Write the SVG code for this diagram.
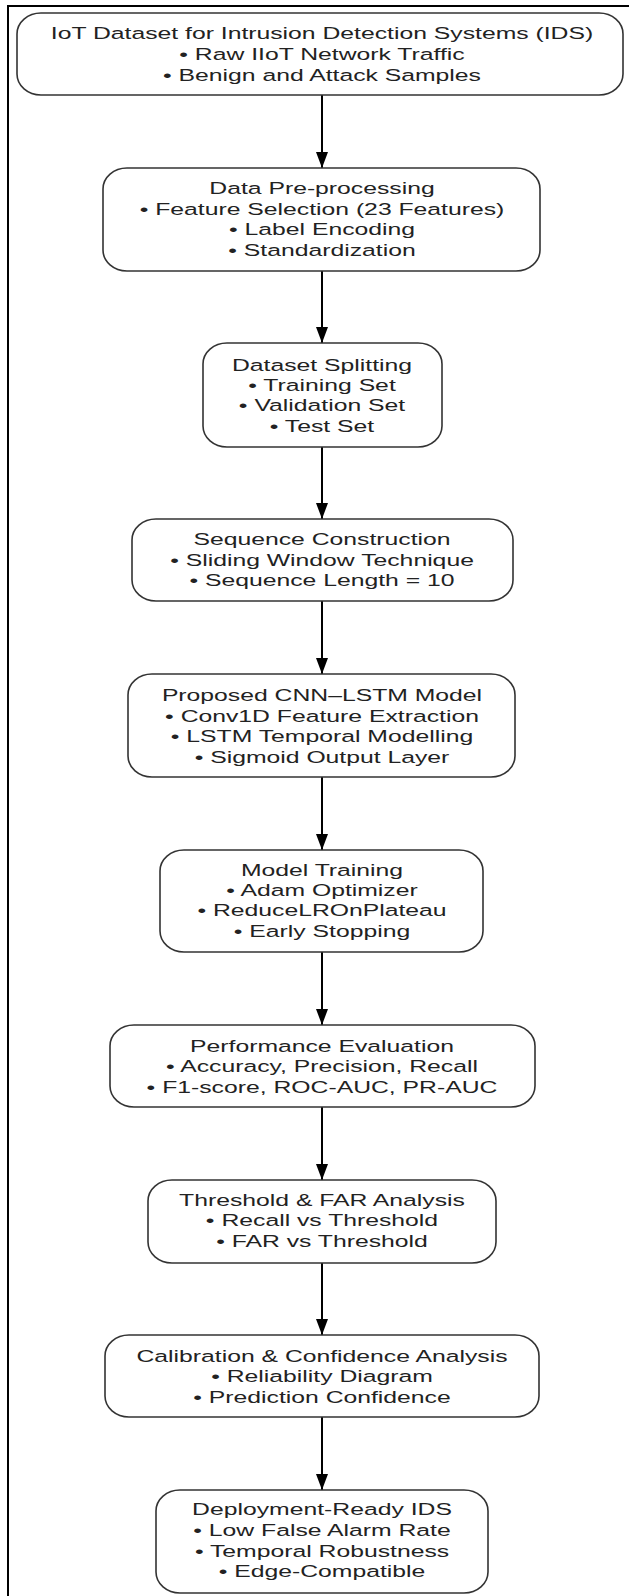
<svg xmlns="http://www.w3.org/2000/svg" width="629" height="1596" viewBox="0 0 629 1596">
<style>
.box{fill:#fff;stroke:#333;stroke-width:1.6}
.t{font-family:"Liberation Sans",Arial,sans-serif;font-size:16.5px;fill:#222;text-anchor:middle}
.c{stroke:#000;stroke-width:2;fill:none;marker-end:url(#ah)}
</style>
<defs>
<marker id="ah" markerUnits="userSpaceOnUse" markerWidth="16" markerHeight="12" refX="16" refY="6" orient="auto" viewBox="0 0 16 12">
<path d="M0,0 L16,6 L0,12 z" fill="#000"/>
</marker>
</defs>
<rect width="629" height="1596" fill="#fff"/>
<path d="M8,1596 V6 H629" fill="none" stroke="#000" stroke-width="2"/>
<g id="connectors">
<line class="c" x1="322" y1="95" x2="322" y2="168"/>
<line class="c" x1="322" y1="271" x2="322" y2="343"/>
<line class="c" x1="322" y1="447" x2="322" y2="519"/>
<line class="c" x1="322" y1="601" x2="322" y2="674"/>
<line class="c" x1="322" y1="777" x2="322" y2="850"/>
<line class="c" x1="322" y1="952" x2="322" y2="1025"/>
<line class="c" x1="322" y1="1107" x2="322" y2="1180"/>
<line class="c" x1="322" y1="1263" x2="322" y2="1335"/>
<line class="c" x1="322" y1="1417" x2="322" y2="1490"/>
</g>
<g id="n1">
<rect class="box" x="17" y="13" width="606" height="82" rx="24" ry="21"/>
<text class="t" transform="translate(322 0) scale(1.5 1)"><tspan x="0" y="39">IoT Dataset for Intrusion Detection Systems (IDS)</tspan><tspan x="0" y="60">• Raw IIoT Network Traffic</tspan><tspan x="0" y="81">• Benign and Attack Samples</tspan></text>
</g>
<g id="n2">
<rect class="box" x="103" y="168" width="437" height="103" rx="24" ry="21"/>
<text class="t" transform="translate(322 0) scale(1.5 1)"><tspan x="0" y="194">Data Pre-processing</tspan><tspan x="0" y="215">• Feature Selection (23 Features)</tspan><tspan x="0" y="235">• Label Encoding</tspan><tspan x="0" y="256">• Standardization</tspan></text>
</g>
<g id="n3">
<rect class="box" x="203" y="343" width="239" height="104" rx="24" ry="21"/>
<text class="t" transform="translate(322 0) scale(1.5 1)"><tspan x="0" y="371">Dataset Splitting</tspan><tspan x="0" y="391">• Training Set</tspan><tspan x="0" y="411">• Validation Set</tspan><tspan x="0" y="432">• Test Set</tspan></text>
</g>
<g id="n4">
<rect class="box" x="132" y="519" width="381" height="82" rx="24" ry="21"/>
<text class="t" transform="translate(322 0) scale(1.5 1)"><tspan x="0" y="545">Sequence Construction</tspan><tspan x="0" y="566">• Sliding Window Technique</tspan><tspan x="0" y="586">• Sequence Length = 10</tspan></text>
</g>
<g id="n5">
<rect class="box" x="128" y="674" width="387" height="103" rx="24" ry="21"/>
<text class="t" transform="translate(322 0) scale(1.5 1)"><tspan x="0" y="701">Proposed CNN–LSTM Model</tspan><tspan x="0" y="722">• Conv1D Feature Extraction</tspan><tspan x="0" y="742">• LSTM Temporal Modelling</tspan><tspan x="0" y="763">• Sigmoid Output Layer</tspan></text>
</g>
<g id="n6">
<rect class="box" x="160" y="850" width="323" height="102" rx="24" ry="21"/>
<text class="t" transform="translate(322 0) scale(1.5 1)"><tspan x="0" y="876">Model Training</tspan><tspan x="0" y="896">• Adam Optimizer</tspan><tspan x="0" y="916">• ReduceLROnPlateau</tspan><tspan x="0" y="937">• Early Stopping</tspan></text>
</g>
<g id="n7">
<rect class="box" x="110" y="1025" width="425" height="82" rx="24" ry="21"/>
<text class="t" transform="translate(322 0) scale(1.5 1)"><tspan x="0" y="1052">Performance Evaluation</tspan><tspan x="0" y="1072">• Accuracy, Precision, Recall</tspan><tspan x="0" y="1093">• F1-score, ROC-AUC, PR-AUC</tspan></text>
</g>
<g id="n8">
<rect class="box" x="148" y="1180" width="348" height="83" rx="24" ry="21"/>
<text class="t" transform="translate(322 0) scale(1.5 1)"><tspan x="0" y="1206">Threshold &amp; FAR Analysis</tspan><tspan x="0" y="1226">• Recall vs Threshold</tspan><tspan x="0" y="1247">• FAR vs Threshold</tspan></text>
</g>
<g id="n9">
<rect class="box" x="105" y="1335" width="434" height="82" rx="24" ry="21"/>
<text class="t" transform="translate(322 0) scale(1.5 1)"><tspan x="0" y="1362">Calibration &amp; Confidence Analysis</tspan><tspan x="0" y="1382">• Reliability Diagram</tspan><tspan x="0" y="1403">• Prediction Confidence</tspan></text>
</g>
<g id="n10">
<rect class="box" x="156" y="1490" width="332" height="103" rx="24" ry="21"/>
<text class="t" transform="translate(322 0) scale(1.5 1)"><tspan x="0" y="1515">Deployment-Ready IDS</tspan><tspan x="0" y="1536">• Low False Alarm Rate</tspan><tspan x="0" y="1557">• Temporal Robustness</tspan><tspan x="0" y="1577">• Edge-Compatible</tspan></text>
</g>
</svg>
